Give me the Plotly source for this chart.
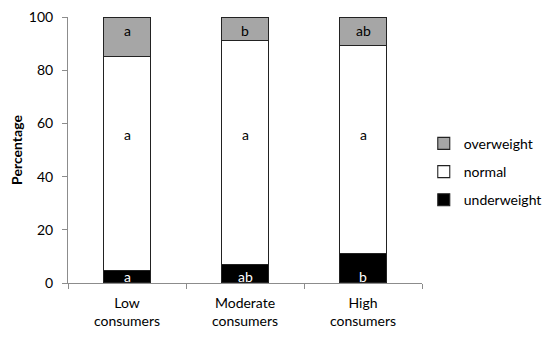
import plotly.graph_objects as go

categories = ["Low<br>consumers", "Moderate<br>consumers", "High<br>consumers"]
underweight = [4.7, 7.0, 11.1]
normal = [80.3, 84.2, 78.2]
overweight = [15.0, 8.8, 10.7]
labels_under = ["a", "ab", "b"]
labels_normal = ["a", "a", "a"]
labels_over = ["a", "b", "ab"]
yticks = [0, 20, 40, 60, 80, 100]

FONT = "Lato"
fig = go.Figure()
series = [
    ("underweight", underweight, "#000000", 3),
    ("normal", normal, "#ffffff", 2),
    ("overweight", overweight, "#a6a6a6", 1),
]
for name, vals, col, rank in series:
    fig.add_trace(go.Bar(
        x=categories, y=vals, name=name, legendgroup=name, legendrank=rank,
        marker=dict(color=col, line=dict(color="#222222", width=1.1)),
        width=0.4, hoverinfo="skip",
    ))

def add_labels(labels, yval, color):
    for c, t in zip(categories, labels):
        fig.add_annotation(x=c, y=yval, text=t, showarrow=False,
                           font=dict(family=FONT, size=14, color=color),
                           xref="x", yref="y")

add_labels(labels_over, 95, "#000000")
add_labels(labels_normal, 56, "#000000")
add_labels(labels_under, 2.4, "#ffffff")

fig.update_layout(
    barmode="stack",
    width=542, height=331,
    margin=dict(l=60, r=128, t=9, b=56, autoexpand=False),
    paper_bgcolor="white", plot_bgcolor="white",
    font=dict(family=FONT, size=14, color="#000000"),
    showlegend=True,
    legend=dict(traceorder="grouped", x=1.005, xanchor="left", y=0.418,
                yanchor="middle", tracegroupgap=7,
                font=dict(family=FONT, size=14)),
    xaxis=dict(showline=True, linecolor="#8c8c8c", linewidth=1,
               ticks="outside", tickson="boundaries", ticklen=5,
               tickcolor="#8c8c8c", showgrid=False, automargin=False,
               ticklabelstandoff=7,
               tickfont=dict(family=FONT, size=14)),
    yaxis=dict(range=[0, 100], tickvals=yticks, showline=True,
               linecolor="#8c8c8c", linewidth=1, ticks="outside",
               ticklen=5, tickcolor="#8c8c8c", showgrid=False, zeroline=False,
               automargin=False, ticklabelstandoff=6, ticklabeloverflow="allow",
               title=dict(text="<b>Percentage</b>", standoff=10,
                          font=dict(family=FONT, size=14)),
               tickfont=dict(family=FONT, size=14)),
)
fig.write_html("out.html")
